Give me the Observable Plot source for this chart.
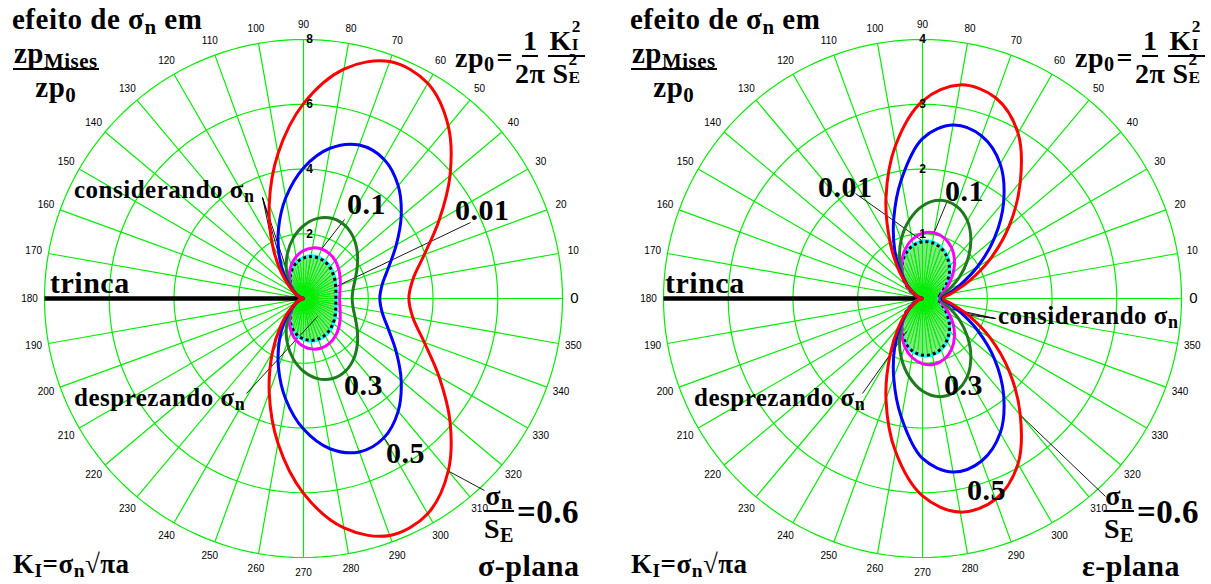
<!DOCTYPE html>
<html><head><meta charset="utf-8">
<script src="https://cdn.jsdelivr.net/npm/d3@7"></script>
<script src="https://cdn.jsdelivr.net/npm/@observablehq/plot@0.6"></script>
<style>
body{margin:0;background:#fff;}
#wrap{position:relative;width:1211px;height:584px;overflow:hidden;background:#fff;}
.panel{position:absolute;top:0;}
.t{position:absolute;font-family:"Liberation Serif","Times New Roman",serif;font-weight:bold;color:#000;white-space:nowrap;line-height:1;letter-spacing:0.5px;}
.sb{font-size:0.72em;position:relative;top:0.22em;}
.frac{display:inline-flex;flex-direction:column;align-items:center;vertical-align:middle;}
.frac .num{border-bottom:2px solid #000;padding:0 1px;line-height:1;}
.frac .den{line-height:1;padding-top:3px;}
.row{display:flex;align-items:center;}
.ss{display:inline-block;position:relative;width:0.45em;height:1em;vertical-align:top;}
.ss .a{position:absolute;left:0;top:-0.42em;font-size:0.62em;line-height:0.8;}
.ss .b{position:absolute;left:0;top:0.62em;font-size:0.62em;line-height:0.8;}
</style>
</head><body>
<div id="wrap"></div>
<script>
// ---- data: angle (degrees) and zp/zp0 radius, upper half (mirrored about the crack line) ----
const angles = [0,10,20,30,40,50,60,70,80,90,100,110,120,130,140,150,160,170,180];

// σ-plana (plane stress)
const sNeglect = [1.000,1.015,1.058,1.121,1.193,1.262,1.313,1.333,1.314,1.250,1.141,0.991,0.813,0.619,0.427,0.255,0.118,0.030,0];
const s001 = [1.010,1.026,1.071,1.137,1.212,1.284,1.337,1.358,1.337,1.270,1.156,1.000,0.817,0.620,0.426,0.254,0.117,0.030,0];
const s01  = [1.117,1.140,1.206,1.305,1.419,1.526,1.603,1.627,1.587,1.480,1.312,1.100,0.868,0.635,0.422,0.244,0.110,0.029,0];
const s03  = [1.503,1.552,1.696,1.914,2.173,2.420,2.591,2.631,2.513,2.247,1.878,1.463,1.063,0.715,0.439,0.237,0.101,0.026,0];
const s05  = [2.357,2.467,2.794,3.310,3.939,4.549,4.967,5.043,4.712,4.034,3.158,2.263,1.490,0.905,0.503,0.250,0.100,0.023,0];
const s06  = [3.254,3.433,3.973,4.837,5.908,6.956,7.674,7.789,7.197,6.019,4.542,3.096,1.919,1.090,0.568,0.267,0.103,0.023,0];

// ε-plana (plane strain)
const eNeglect = [0.250,0.271,0.330,0.421,0.531,0.645,0.750,0.830,0.874,0.875,0.831,0.745,0.625,0.485,0.339,0.204,0.095,0.0245,0];
const e001 = [0.251,0.272,0.333,0.426,0.539,0.656,0.763,0.844,0.888,0.887,0.839,0.749,0.626,0.484,0.337,0.202,0.094,0.024,0];
const e01  = [0.265,0.290,0.363,0.478,0.620,0.768,0.901,0.994,1.032,1.007,0.925,0.797,0.640,0.476,0.319,0.185,0.084,0.020,0];
const e03  = [0.280,0.330,0.450,0.657,0.902,1.162,1.387,1.521,1.540,1.430,1.218,0.965,0.708,0.480,0.296,0.160,0.068,0.016,0];
const e05  = [0.300,0.400,0.620,0.980,1.450,1.950,2.400,2.670,2.720,2.470,1.870,1.300,0.857,0.522,0.291,0.145,0.058,0.013,0];
const e06  = [0.320,0.450,0.750,1.200,1.750,2.350,2.950,3.300,3.350,3.050,2.400,1.650,1.000,0.570,0.300,0.140,0.055,0.013,0];

const angleLabels = [0,10,20,30,40,50,60,70,80,90,100,110,120,130,140,150,160,170,180,190,200,210,220,230,240,250,260,270,280,290,300,310,320,330,340,350];
const ringsS = [2,4,6,8];
const ringsE = [1,2,3,4];

const colors = {c001:"#00ffff", c01:"#ff00ff", c03:"#1f7a1f", c05:"#0000ff", c06:"#ff0000", grid:"#00ee00", fill:"#80e880"};

// ---- helpers ----
const rad = a => a * Math.PI / 180;
const pol = (a, r) => ({x: r * Math.cos(rad(a)), y: r * Math.sin(rad(a))});
function closed(rs) {
  const pts = [];
  for (let i = 0; i < angles.length; i++) pts.push(pol(angles[i], rs[i]));
  for (let i = angles.length - 2; i > 0; i--) pts.push(pol(360 - angles[i], rs[i]));
  return pts;
}
const curveAt = (rs, a) => pol(a, rs[angles.indexOf(Math.abs(a))]);
// rays inside the green (σn neglected) region: one to each read point, one between neighbours
function rays(rs) {
  const out = [];
  for (let i = 0; i < angles.length; i++) {
    out.push(pol(angles[i], rs[i] * 0.97), pol(-angles[i], rs[i] * 0.97));
    if (i < angles.length - 1) {
      const m = Math.min(rs[i], rs[i + 1]) * 0.97, a = angles[i] + 5;
      out.push(pol(a, m), pol(-a, m));
    }
  }
  return out;
}

function panel(cfg) {
  const {cx, cy, width, height, rmax, rings, c, leaders} = cfg;
  const k = 259 / rmax;
  const toD = (px, py) => ({x: (px - cx) / k, y: (cy - py) / k});
  const ringPts = [];
  for (const r of rings) for (let a = 0; a <= 360; a += 2) ringPts.push({r, ...pol(a, r)});
  const spokes = angleLabels.map(a => pol(a, rmax));
  const labR = 274 / k;
  const leaderSegs = leaders.map(L => {
    const p = toD(L.from[0], L.from[1]);
    const q = L.tip ? curveAt(c[L.tip[0]], L.tip[1]) : toD(L.to[0], L.to[1]);
    return {x1: p.x, y1: p.y, x2: q.x, y2: q.y};
  });
  const line = (rs, opts) => Plot.line(closed(rs), {x: "x", y: "y", curve: "catmull-rom-closed", strokeWidth: 3, strokeLinejoin: "round", ...opts});
  return Plot.plot({
    width, height, margin: 0,
    style: {background: "transparent", overflow: "visible"},
    x: {domain: [-cx / k, (width - cx) / k], axis: null},
    y: {domain: [(cy - height) / k, cy / k], axis: null},
    marks: [
      line(c.neg, {fill: colors.fill, stroke: "none"}),
      Plot.link(rays(c.neg), {x1: () => 0, y1: () => 0, x2: "x", y2: "y", stroke: colors.grid, strokeWidth: 1}),
      Plot.line(ringPts, {x: "x", y: "y", z: "r", stroke: colors.grid, strokeWidth: 1.2}),
      Plot.link(spokes, {x1: () => 0, y1: () => 0, x2: "x", y2: "y", stroke: colors.grid, strokeWidth: 1.2}),
      Plot.link([0], {x1: () => -rmax, y1: () => 0, x2: () => 0, y2: () => 0, stroke: "#000", strokeWidth: 4.5}),
      Plot.link(leaderSegs, {x1: "x1", y1: "y1", x2: "x2", y2: "y2", stroke: "#000", strokeWidth: 0.9}),
      line(c.c001, {stroke: colors.c001}),
      line(c.neg, {stroke: "#000", strokeDasharray: "3,3", strokeLinecap: "butt"}),
      line(c.c01, {stroke: colors.c01}),
      line(c.c03, {stroke: colors.c03}),
      line(c.c05, {stroke: colors.c05}),
      line(c.c06, {stroke: colors.c06}),
      Plot.text(angleLabels.filter(a => a !== 0), {x: a => labR * Math.cos(rad(a)), y: a => labR * Math.sin(rad(a)), text: a => String(a), fontSize: 10, fontFamily: "Liberation Sans, Arial, sans-serif", fill: "#000"}),
      Plot.text([0], {x: () => labR - 3 / k, y: () => 0, text: a => String(a), fontSize: 15, fontFamily: "Liberation Sans, Arial, sans-serif", fill: "#000"}),
      Plot.text(rings, {x: () => 0, y: r => r, text: r => String(r), dx: cfg.rdx, fontSize: 12, fontWeight: "bold", fontFamily: "Liberation Sans, Arial, sans-serif", fill: "#000"})
    ]
  });
}

const wrap = document.getElementById("wrap");
function place(el, left) { el.classList.add("panel"); el.style.left = left + "px"; wrap.appendChild(el); }

place(panel({
  cx: 303, cy: 298, width: 605, height: 584, rmax: 8, rings: ringsS, rdx: 6,
  c: {neg: sNeglect, c001: s001, c01: s01, c03: s03, c05: s05, c06: s06},
  leaders: [
    {from: [262, 197], tip: ["c06", 120]},
    {from: [262, 197], tip: ["c05", 120]},
    {from: [262, 197], tip: ["c03", 120]},
    {from: [344, 219], tip: ["c01", 70]},
    {from: [470, 222], tip: ["c001", 20]},
    {from: [246, 393], to: [317, 316]},
    {from: [484, 490], tip: ["c06", -50]},
    {from: [389, 445], tip: ["c05", -60]}
  ]
}), 0);

place(panel({
  cx: 317, cy: 298, width: 606, height: 584, rmax: 4, rings: ringsE, rdx: 0,
  c: {neg: eNeglect, c001: e001, c01: e01, c03: e03, c05: e05, c06: e06},
  leaders: [
    {from: [250, 193], tip: ["c001", 90]},
    {from: [342, 200], tip: ["c01", 80]},
    {from: [390, 318], tip: ["c03", -20]},
    {from: [390, 318], tip: ["c05", -20]},
    {from: [390, 318], tip: ["c06", -20]},
    {from: [257, 393], to: [301, 331]},
    {from: [500, 496], tip: ["c06", -50]}
  ]
}), 605);

// ---- text annotations ----
const sig = 'σ<span class="sb">n</span>';
const frac = (n, d) => `<span class="frac"><span class="num">${n}</span><span class="den">${d}</span></span>`;
const KI2 = 'K<span class="ss"><span class="a">2</span><span class="b">I</span></span>';
const SE2 = 'S<span class="ss"><span class="a">2</span><span class="b">E</span></span>';
function txt(html, left, top, size, extra) {
  const d = document.createElement("div");
  d.className = "t"; d.innerHTML = html;
  d.style.left = left + "px"; d.style.top = top + "px"; d.style.fontSize = size + "px";
  if (extra) Object.assign(d.style, extra);
  wrap.appendChild(d);
}
for (const [dx, lab] of [[0, "L"], [618, "R"]]) {
  txt(`efeito de ${sig} em`, 12 + dx, 5, 29);
  txt(frac('zp<span class="sb">Mises</span>', 'zp<span class="sb">0</span>'), 13 + dx, 39, 29);
  txt(`<div class="row"><span>zp<span class="sb">0</span></span><span style="margin:0 2px">=</span>${frac("1", "2π")}<span style="width:3px"></span>${frac(KI2, SE2)}</div>`, 455 + dx + (lab === "R" ? 2 : 0), 27, 28);
  txt(`desprezando ${sig}`, 74 + dx + (lab === "R" ? 2 : 0), 385, 25);
  txt("trinca", 50 + dx - (lab === "R" ? 3 : 0), 268, 30);
  txt(`K<span class="sb">I</span>=σ<span class="sb">n</span>√πa`, 13 + dx, 551, 27);
}
txt("σ-plana", 478, 551, 30);
txt("ε-plana", 1082, 551, 30);
// left panel values
txt(`considerando ${sig}`, 74, 177, 25);
txt("0.1", 347, 189, 30);
txt("0.01", 455, 195, 30);
txt("0.3", 344, 370, 30);
txt("0.5", 386, 438, 30);
txt(`<div class="row">${frac(sig, 'S<span class="sb">E</span>')}<span style="margin-left:3px;font-size:33px">=0.6</span></div>`, 484, 482, 28);
// right panel values
txt("0.01", 818, 172, 30);
txt("0.1", 945, 176, 30);
txt(`considerando ${sig}`, 998, 303, 25);
txt("0.3", 944, 370, 30);
txt("0.5", 967, 475, 30);
txt(`<div class="row">${frac(sig, 'S<span class="sb">E</span>')}<span style="margin-left:3px;font-size:33px">=0.6</span></div>`, 1104, 482, 28);
</script>
</body></html>
